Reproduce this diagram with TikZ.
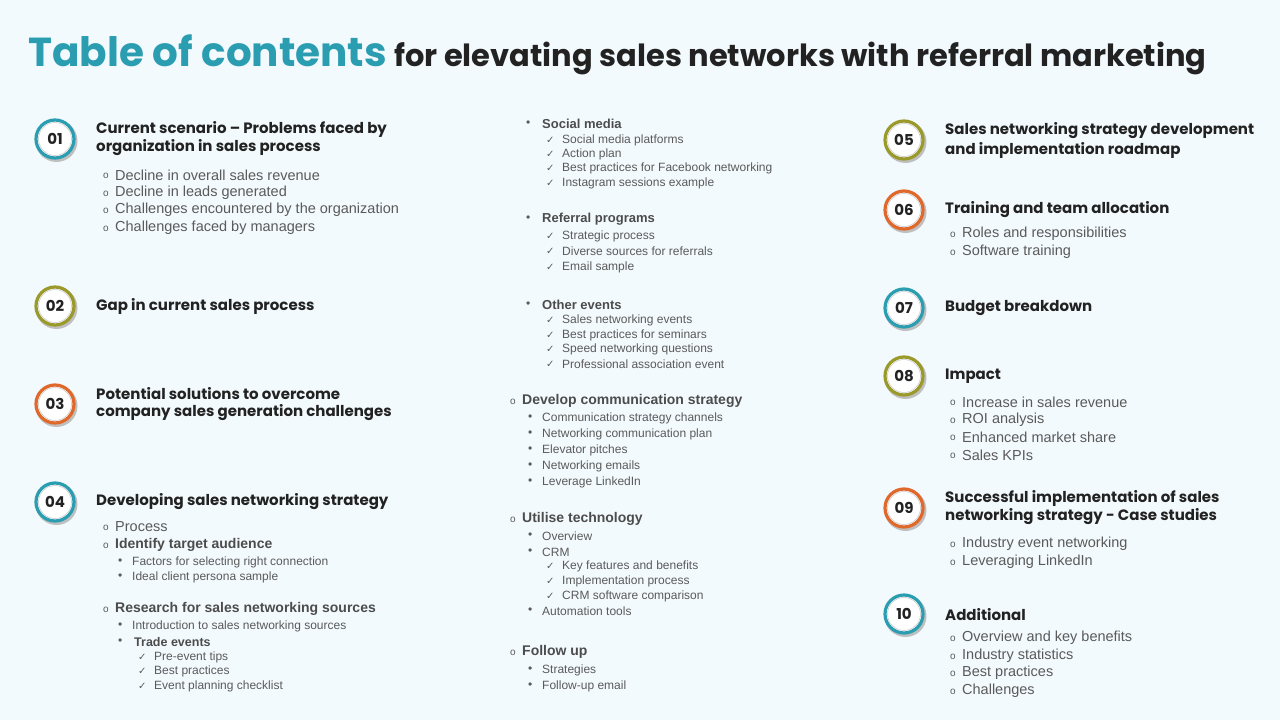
\documentclass[tikz,border=0pt]{standalone}
\usepackage{fontspec}
\setmainfont{Liberation Sans}
\newfontfamily\pop{Poppins}
\newfontfamily\djv{DejaVu Sans}
\definecolor{bg}{HTML}{F3FAFD}
\definecolor{teal}{HTML}{2A9DB0}
\definecolor{olive}{HTML}{9A9A2A}
\definecolor{orng}{HTML}{E0682A}
\definecolor{txt}{HTML}{222222}
\definecolor{gr}{HTML}{5A5A5A}
\newcommand\hd[3]{\node[hd] at (#1,#2) {#3};}
\newcommand\ob[3]{\node[bd,font=\fontsize{10}{12}\selectfont] at (#1,#2+1) {o}; \node[bd] at (#1+12,#2) {#3};}
\newcommand\obb[3]{\node[bd,font=\fontsize{10}{12}\selectfont] at (#1,#2+1) {o}; \node[bd,font=\fontsize{14}{16}\selectfont\bfseries,text=gr!85!black] at (#1+12,#2) {#3};}
\newcommand\db[3]{\node[sm] at (#1,#2) {•}; \node[sm] at (#1+14,#2) {#3};}
\newcommand\dbb[3]{\node[sm] at (#1,#2) {•}; \node[sm,font=\fontsize{13}{15}\selectfont\bfseries,text=gr!85!black] at (#1+16,#2) {#3};}
\newcommand\ck[3]{\node[sm,font=\djv\fontsize{10}{12}\selectfont] at (#1,#2) {✓}; \node[sm] at (#1+16,#2) {#3};}
\newcommand\num[4]{\fill[black!25] (#1+1.5,#2+2) circle (21);
 \draw[#4,line width=3.2,fill=white] (#1,#2) circle (19);
 \draw[black!20,line width=0.6] (#1,#2) circle (16.5);
 \node[font=\pop\bfseries\fontsize{15}{17}\selectfont,text=txt] at (#1,#2) {#3};}
\begin{document}
\begin{tikzpicture}[x=1pt,y=-1pt,
 hd/.style={anchor=west,inner sep=0,font=\pop\fontsize{15}{18}\selectfont\bfseries,text=txt},
 bd/.style={anchor=west,inner sep=0,font=\fontsize{14.5}{16}\selectfont,text=gr},
 sm/.style={anchor=west,inner sep=0,font=\fontsize{12}{14}\selectfont,text=gr}]
\fill[bg] (0,0) rectangle (1280,720);
\node[anchor=base west,inner sep=0,font=\pop\bfseries\fontsize{40.5}{44}\selectfont,text=teal] (t1) at (28,66) {Table of contents};
\node[anchor=base west,inner sep=0,font=\pop\bfseries\fontsize{30.5}{32}\selectfont,text=txt] (t2) at (394,66) {for elevating sales networks with referral marketing};
% left
\num{55}{139}{01}{teal}\num{55}{306}{02}{olive}\num{55}{404}{03}{orng}\num{55}{502}{04}{teal}
\hd{96}{129}{Current scenario – Problems faced by}\hd{96}{148}{organization in sales process}
\ob{103}{175}{Decline in overall sales revenue}\ob{103}{193}{Decline in leads generated}
\ob{103}{210}{Challenges encountered by the organization}\ob{103}{228}{Challenges faced by managers}
\hd{96}{306}{Gap in current sales process}
\hd{96}{394}{Potential solutions to overcome}\hd{96}{413}{company sales generation challenges}
\hd{96}{502}{Developing sales networking strategy}
\ob{103}{527}{Process}\obb{103}{545}{Identify target audience}
\db{118}{562}{Factors for selecting right connection}\db{118}{577}{Ideal client persona sample}
\obb{103}{609}{Research for sales networking sources}
\db{118}{626}{Introduction to sales networking sources}
\node[sm] at (118,642) {•};\node[sm,font=\fontsize{12.5}{14}\selectfont\bfseries,text=gr!85!black] at (134,642) {Trade events};
\ck{138}{657}{Pre-event tips}\ck{138}{671}{Best practices}\ck{138}{686}{Event planning checklist}
% middle
\dbb{526}{124}{Social media}
\ck{546}{140}{Social media platforms}\ck{546}{154}{Action plan}\ck{546}{168}{Best practices for Facebook networking}\ck{546}{183}{Instagram sessions example}
\dbb{526}{219}{Referral programs}
\ck{546}{236}{Strategic process}\ck{546}{251}{Diverse  sources for referrals}\ck{546}{267}{Email sample}
\dbb{526}{305}{Other events}
\ck{546}{320}{Sales networking events}\ck{546}{335}{Best practices for seminars}\ck{546}{349}{Speed networking questions}\ck{546}{364}{Professional association event}
\obb{510}{401}{Develop communication strategy}
\db{528}{418}{Communication strategy channels}\db{528}{434}{Networking communication plan}\db{528}{450}{Elevator pitches}\db{528}{466}{Networking emails}\db{528}{482}{Leverage  LinkedIn}
\obb{510}{519}{Utilise technology}
\db{528}{536}{Overview}\db{528}{552}{CRM}
\ck{546}{566}{Key features and benefits}\ck{546}{581}{Implementation process}\ck{546}{596}{CRM software comparison}
\db{528}{611}{Automation tools}
\obb{510}{652}{Follow up}
\db{528}{670}{Strategies}\db{528}{686}{Follow-up email}
% right
\num{904}{140}{05}{olive}\num{904}{210}{06}{orng}\num{904}{308}{07}{teal}\num{904}{376}{08}{olive}\num{904}{508}{09}{orng}\num{904}{614}{10}{teal}
\hd{945}{131}{Sales networking strategy development}\hd{945}{150}{and implementation roadmap}
\hd{945}{210}{Training and team allocation}
\ob{950}{234}{Roles and responsibilities}\ob{950}{252}{Software training}
\hd{945}{308}{Budget breakdown}
\hd{945}{376}{Impact}
\ob{950}{402}{Increase in sales revenue}\ob{950}{420}{ROI analysis}\ob{950}{437}{Enhanced market share}\ob{950}{455}{Sales KPIs}
\hd{945}{498}{Successful implementation of sales}\hd{945}{517}{networking strategy  - Case studies}
\ob{950}{544}{Industry event networking}\ob{950}{562}{Leveraging LinkedIn}
\hd{945}{615}{Additional}
\ob{950}{638}{Overview and key benefits}\ob{950}{656}{Industry statistics}\ob{950}{673}{Best practices}\ob{950}{691}{Challenges}
\end{tikzpicture}
\end{document}
